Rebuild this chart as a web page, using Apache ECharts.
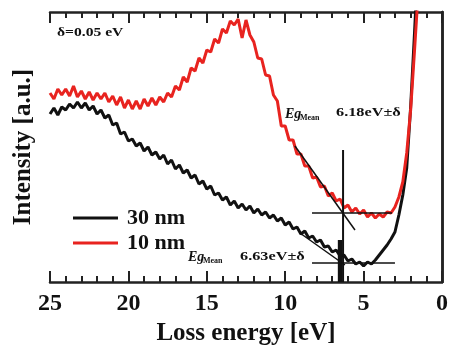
<!DOCTYPE html>
<html><head><meta charset="utf-8">
<script src="https://cdn.jsdelivr.net/npm/echarts@6/dist/echarts.min.js"></script>
<style>html,body{margin:0;padding:0;background:#fff}#c{width:450px;height:345px}</style>
</head><body><div id="c"></div>
<script>
const energies = [25,24.75,24.5,24.25,24,23.75,23.5,23.25,23,22.75,22.5,22.25,22,21.75,21.5,21.25,21,20.75,20.5,20.25,20,19.75,19.5,19.25,19,18.75,18.5,18.25,18,17.75,17.5,17.25,17,16.75,16.5,16.25,16,15.75,15.5,15.25,15,14.75,14.5,14.25,14,13.75,13.5,13.25,13,12.75,12.5,12.25,12,11.75,11.5,11.25,11,10.75,10.5,10.25,10,9.75,9.5,9.25,9,8.75,8.5,8.25,8,7.75,7.5,7.25,7,6.75,6.5,6.25,6,5.75,5.5,5.25,5,4.75,4.5,4.25,4,3.75,3.5,3.25,3,2.75,2.5,2.25,2,1.75,1.5,1.25];
const int30nm = [168,174,167,175,172,178,174,180,174,179,172,176,168,172,164,167,157,159,148,150,141,143,136,139,131,135,127,130,123,127,118,122,113,117,109,112,104,107,98,101,93,96,87,89,82,85,77,81,74,78,72,76,69,73,67,70,64,67,61,64,57,60,53,55,48,51,44,46,40,42,35,36,30,32,26,27,21,23,18,20,16,20,18,22,27,32,37,43,50,67,87,114,175,250,330,400];
const int10nm = [189,183,193,187,193,186,196,185,191,183,190,182,189,183,189,180,186,177,185,174,182,173,181,173,183,176,184,177,185,180,189,185,196,192,205,200,214,211,224,219,232,230,243,239,253,249,261,257,263,244,262,247,240,224,223,207,206,187,181,156,156,142,142,128,128,116,116,104,105,95,96,86,89,81,83,74,77,70,74,68,72,65,69,64,68,65,70,69,75,85,100,129,172,232,295,360];
const seriesNames = ['30 nm','10 nm'];
const xTickLabels = ['0','5','10','15','20','25'];
const gapLine = [[6.31,0],[6.31,132]];
const gapBar = [[6.5,0],[6.5,42]];
const hLine10 = [[8.29,69],[3.19,69]];
const hLine30 = [[8.29,19],[3.0,19]];
const tangent10 = [[9.38,136],[5.55,52]];
const tangent30 = [[9.06,49],[6.19,17]];

const serif = '"Liberation Serif","DejaVu Serif",serif';
const axisColor = '#222';
const chart = echarts.init(document.getElementById('c'), null, {renderer:'canvas'});
const zip = (xs, ys) => xs.map((x,i)=>[x, ys[i]]);
const annot = (d, w) => ({type:'line', data:d, symbol:'none', silent:true, z:5,
  lineStyle:{color:'#111', width:w}, animation:false});
function xAxisDef(pos, withLabels){
  return {type:'value', gridIndex:0, position:pos, min:0, max:25, interval:5, inverse:true, show:true,
    axisLine:{show:true, onZero:false, lineStyle:{color:axisColor, width:2.5}},
    axisTick:{show:true, inside:true, length:11, lineStyle:{color:axisColor, width:2}},
    minorTick:{show:true, splitNumber:5, length:6, lineStyle:{color:axisColor, width:2}},
    splitLine:{show:false},
    axisLabel:{show:withLabels, margin:10, color:'#111', fontFamily:serif, fontWeight:'bold', fontSize:24,
      formatter:v=>xTickLabels[xTickLabels.indexOf(String(v))]}};
}
const xBottom = xAxisDef('bottom', true);
Object.assign(xBottom, {name:'Loss energy [eV]', nameLocation:'middle', nameGap:38,
  nameTextStyle:{color:'#111', fontFamily:serif, fontWeight:'bold', fontSize:25}});
const xTop = xAxisDef('top', false);
chart.setOption({
  animation:false,
  backgroundColor:'#fff',
  grid:{left:50, right:8, top:12, bottom:63, containLabel:false, outerBoundsMode:'none'},
  xAxis:[xBottom, xTop],
  yAxis:[
    {type:'value', min:0, max:270, position:'left',
     axisLine:{show:true, lineStyle:{color:axisColor, width:2.5}},
     axisTick:{show:false}, axisLabel:{show:false}, splitLine:{show:false},
     name:'Intensity [a.u.]', nameLocation:'middle', nameGap:14,
     nameTextStyle:{color:'#111', fontFamily:serif, fontWeight:'bold', fontSize:25}},
    {type:'value', min:0, max:270, position:'right',
     axisLine:{show:true, lineStyle:{color:axisColor, width:2.5}},
     axisTick:{show:false}, axisLabel:{show:false}, splitLine:{show:false}}
  ],
  legend:{data:seriesNames, orient:'vertical', left:68, top:202, itemWidth:45, itemHeight:3,
    icon:'rect', itemGap:3,
    textStyle:{color:'#111', fontFamily:serif, fontWeight:'bold', fontSize:22, lineHeight:21, padding:[0,0,0,4]}},
  series:[
    {name:seriesNames[0], type:'line', xAxisIndex:0, yAxisIndex:0, data:zip(energies,int30nm), symbol:'none', showSymbol:false,
     lineStyle:{color:'#111', width:3}, itemStyle:{color:'#111'}, z:2, clip:true},
    {name:seriesNames[1], type:'line', xAxisIndex:0, yAxisIndex:0, data:zip(energies,int10nm), symbol:'none', showSymbol:false,
     lineStyle:{color:'#e8231f', width:3}, itemStyle:{color:'#e8231f'}, z:3, clip:true},
    annot(gapLine, 2), annot(gapBar, 4.5), annot(hLine10, 1.5), annot(hLine30, 1.5),
    annot(tangent10, 1.5), annot(tangent30, 1.5)
  ],
  graphic:[
    {type:'text', left:57, top:26, scaleX:1.2, style:{text:'δ=0.05 eV', font:'bold 13px '+serif, fill:'#111'}},
    {type:'text', left:285, top:107, style:{text:'Eg', font:'italic bold 14px '+serif, fill:'#111'}},
    {type:'text', left:300, top:114, style:{text:'Mean', font:'bold 8px '+serif, fill:'#111'}},
    {type:'text', left:336, top:106, scaleX:1.25, style:{text:'6.18eV±δ', font:'bold 13px '+serif, fill:'#111'}},
    {type:'text', left:188, top:250, style:{text:'Eg', font:'italic bold 14px '+serif, fill:'#111'}},
    {type:'text', left:203, top:257, style:{text:'Mean', font:'bold 8px '+serif, fill:'#111'}},
    {type:'text', left:240, top:250, scaleX:1.25, style:{text:'6.63eV±δ', font:'bold 13px '+serif, fill:'#111'}}
  ]
});
</script></body></html>
